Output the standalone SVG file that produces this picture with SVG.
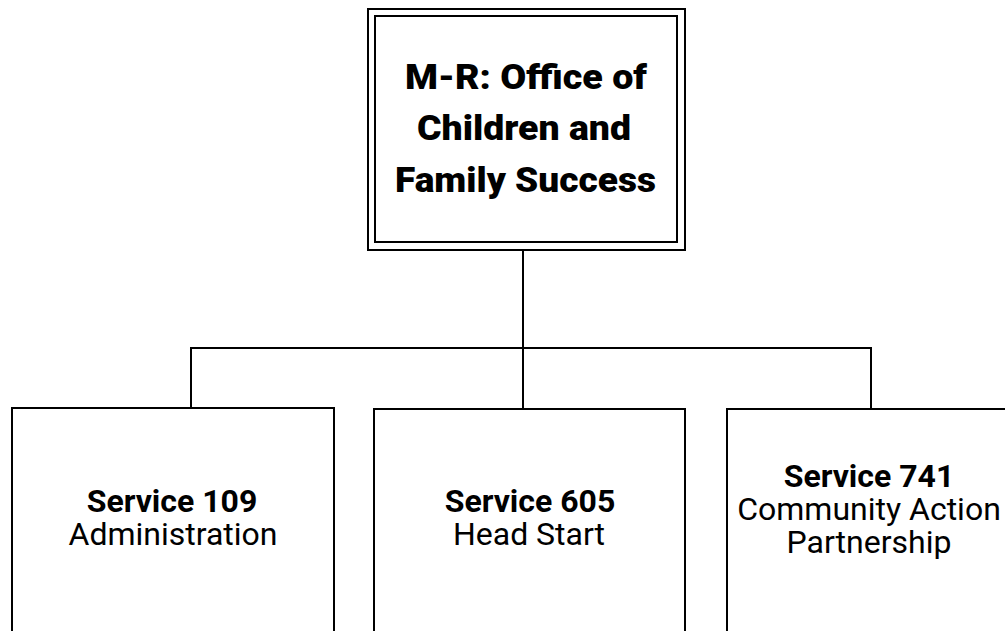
<svg xmlns="http://www.w3.org/2000/svg" width="1005" height="631" viewBox="0 0 1005 631">
<style>
.box{fill:#fff;stroke:#000;stroke-width:2}
.conn{fill:none;stroke:#000;stroke-width:2}
.title{font-family:Roboto,"Liberation Sans",sans-serif;font-weight:900;font-size:35px;text-anchor:middle;fill:#000}
.h{font-family:Roboto,"Liberation Sans",sans-serif;font-weight:bold;font-size:32px;text-anchor:middle;fill:#000}
.s{font-family:Roboto,"Liberation Sans",sans-serif;font-size:32px;text-anchor:middle;fill:#000}
</style>
<rect width="1005" height="631" fill="#fff"/>
<g id="connectors">
<path class="conn" d="M523 250 V348"/>
<path class="conn" d="M191 408 V348 H871 V408"/>
<path class="conn" d="M523 348 V409"/>
</g>
<g id="node-top">
<rect class="box" x="368" y="9" width="317" height="241"/>
<rect class="box" x="375" y="16" width="302" height="226"/>
<text class="title" x="526" y="88.5" textLength="242" lengthAdjust="spacingAndGlyphs">M-R: Office of</text>
<text class="title" x="524" y="140" textLength="214" lengthAdjust="spacingAndGlyphs">Children and</text>
<text class="title" x="525.5" y="192" textLength="261" lengthAdjust="spacingAndGlyphs">Family Success</text>
</g>
<g id="node-109">
<rect class="box" x="12" y="408" width="322" height="240"/>
<text class="h" x="172" y="512">Service 109</text>
<text class="s" x="173" y="545">Administration</text>
</g>
<g id="node-605">
<rect class="box" x="374" y="409" width="311" height="240"/>
<text class="h" x="530" y="512">Service 605</text>
<text class="s" x="529" y="545">Head Start</text>
</g>
<g id="node-741">
<rect class="box" x="727" y="409" width="284" height="240"/>
<text class="h" x="869" y="487">Service 741</text>
<text class="s" x="869" y="520">Community Action</text>
<text class="s" x="869" y="553">Partnership</text>
</g>
</svg>
